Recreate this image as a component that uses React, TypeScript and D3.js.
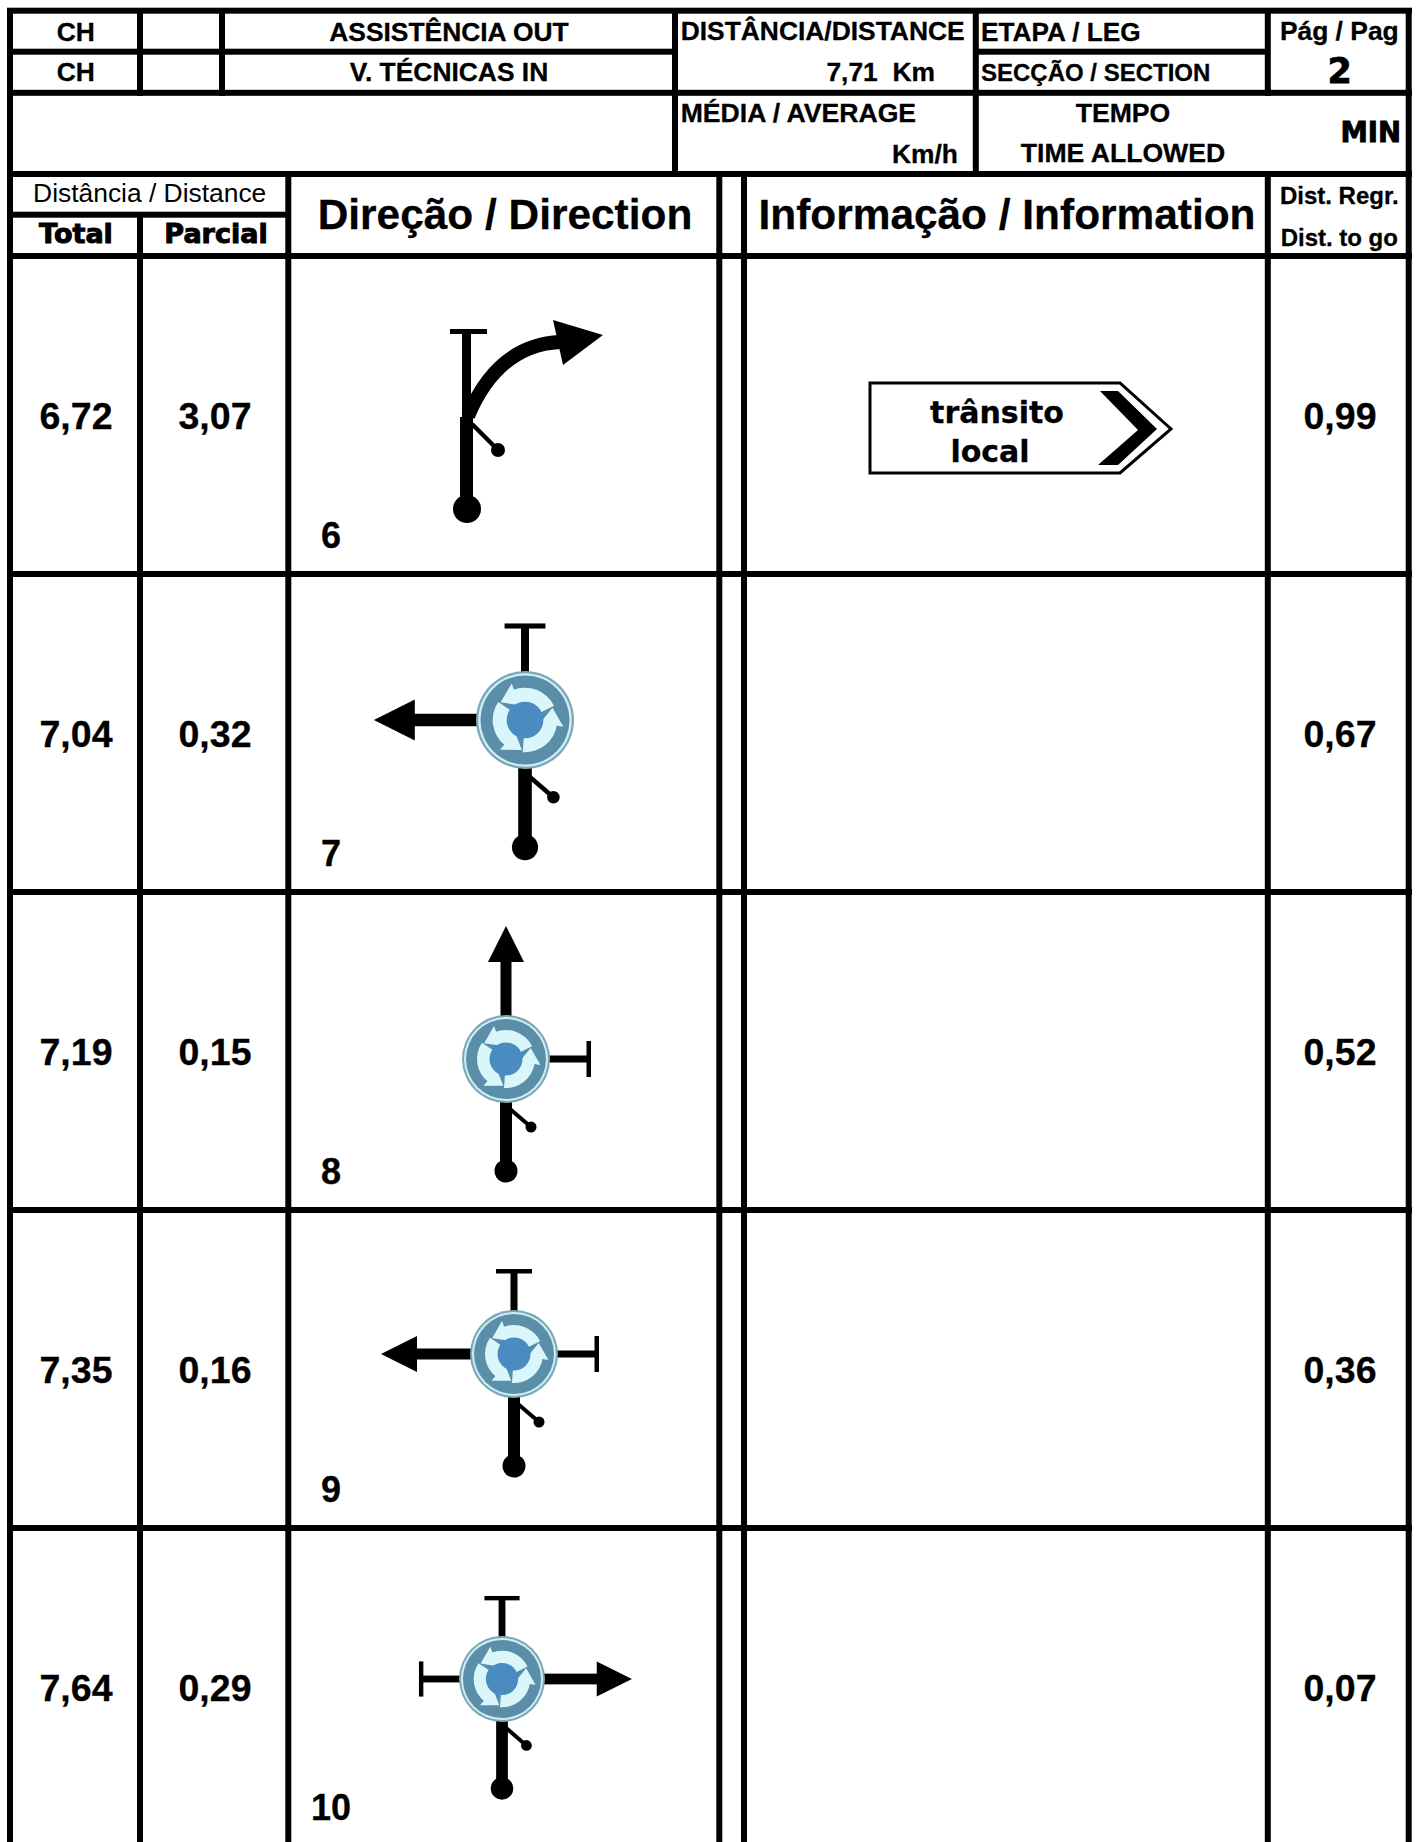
import React from "react";
import * as d3 from "d3";

// values
const totals = ["6,72", "7,04", "7,19", "7,35", "7,64"];
const partials = ["3,07", "0,32", "0,15", "0,16", "0,29"];
const toGo = ["0,99", "0,67", "0,52", "0,36", "0,07"];
const steps = ["6", "7", "8", "9", "10"];

// which way each arm of the roundabout goes, row 0 is the fork drawn by hand
type Arm = "arrow" | "stub" | null;
const topArms: Arm[] = [null, "stub", "arrow", "stub", "stub"];
const leftArms: Arm[] = [null, "arrow", null, "arrow", "stub"];
const rightArms: Arm[] = [null, null, "stub", "stub", "arrow"];

// icon placement
const junctionX = [0, 525, 506, 514, 502];
const junctionDy = [0, 146, 167, 144, 151];
const junctionK = [1, 1.136, 1, 1, 0.977];
const rotaryK = [1, 0.98, 1, 1, 1];

const width = 1421;
const height = 1842;
const arial = "'Liberation Sans', Arial, sans-serif";
const heavy = "'DejaVu Sans', Verdana, sans-serif";
const lw = 6;

const rowY = d3.scaleLinear().domain([0, 1]).range([256, 574]);
const rowIdx = d3.range(totals.length);

const rad = (deg: number) => (deg * Math.PI) / 180;

const T = ({ x, y, size, a = "middle", w = 700, f = arial, s = 0.3, children }: any) => (
  <text
    x={x}
    y={y}
    fontSize={size}
    textAnchor={a}
    fontWeight={w}
    fontFamily={f}
    fill="#000"
    stroke="#000"
    strokeWidth={s}
    style={{ whiteSpace: "pre" }}
  >
    {children}
  </text>
);

const Rotary = ({ k }: { k: number }) => {
  const band = d3.arc()({ innerRadius: 16, outerRadius: 29, startAngle: rad(-22), endAngle: rad(64) } as any) as string;
  const head = [d3.pointRadial(rad(-20), 35), d3.pointRadial(rad(-20), 14), d3.pointRadial(rad(-54), 27)];
  return (
    <g transform={`scale(${k})`}>
      <circle r={44} fill="#7ba6b8" />
      <circle r={42} fill="#cfeef3" />
      <circle r={40} fill="#5b8fa9" />
      <circle r={18} fill="#4a8cc0" />
      {[0, 120, 240].map((a) => (
        <g key={a} transform={`rotate(${a})`} fill="#d9f7fa">
          <path d={band} />
          <polygon points={head.map((p) => p.join(",")).join(" ")} />
        </g>
      ))}
      <circle r={16.5} fill="#4a8cc0" />
    </g>
  );
};

// arm pointing up from the roundabout, rotated for the other sides
const ArmUp = ({ kind, angle }: { kind: Arm; angle: number }) => {
  if (!kind) return null;
  if (kind === "stub") {
    return (
      <g transform={`rotate(${angle})`} fill="#000">
        <rect x={-3.5} y={-83} width={7} height={42} />
        <rect x={-18} y={-85} width={36} height={4.5} />
      </g>
    );
  }
  return (
    <g transform={`rotate(${angle})`} fill="#000">
      <rect x={-5.5} y={-100} width={11} height={58} />
      <path d="M0,-133L18,-97L-18,-97Z" />
    </g>
  );
};

const Junction = ({ i }: { i: number }) => (
  <g transform={`translate(${junctionX[i]},${rowY(i) + junctionDy[i]}) scale(${junctionK[i]})`}>
    <ArmUp kind={topArms[i]} angle={0} />
    <ArmUp kind={leftArms[i]} angle={-90} />
    <ArmUp kind={rightArms[i]} angle={90} />
    <rect x={-6} y={42} width={12} height={70} fill="#000" />
    <circle cy={112} r={11.5} fill="#000" />
    <line x1={4} y1={50} x2={25} y2={68} stroke="#000" strokeWidth={4} />
    <circle cx={25} cy={68} r={5.5} fill="#000" />
    <Rotary k={rotaryK[i]} />
  </g>
);

const Fork = () => {
  const y0 = rowY(0);
  const curve = d3.path();
  curve.moveTo(468, y0 + 160);
  curve.quadraticCurveTo(498, y0 + 89, 560, y0 + 86);
  return (
    <g fill="#000">
      <rect x={450} y={y0 + 73} width={37} height={5} />
      <rect x={462} y={y0 + 75} width={9} height={90} />
      <rect x={460} y={y0 + 161} width={13} height={92} />
      <circle cx={467} cy={y0 + 253} r={14} />
      <path d={curve.toString()} fill="none" stroke="#000" strokeWidth={14} />
      <path d={`M553,${y0 + 64}L603,${y0 + 79}L563,${y0 + 109}Z`} />
      <line x1={472} y1={y0 + 168} x2={498} y2={y0 + 194} stroke="#000" strokeWidth={4.5} />
      <circle cx={498} cy={y0 + 194} r={7} />
    </g>
  );
};

const TransitSign = () => (
  <g>
    <path d="M870,383H1120L1171,429L1120,473H870Z" fill="#fff" stroke="#000" strokeWidth={3} />
    <path d="M1100,391H1118L1157,429L1118,465H1098L1138,430Z" fill="#000" />
    <T x={997} y={423} size={30} f={heavy}>trânsito</T>
    <T x={990} y={462} size={30} f={heavy}>local</T>
  </g>
);

export default function App() {
  // frame lines: vertical [x, y1, y2], horizontal [y, x1, x2]
  const vLines = [
    [10, 8, height],
    [140, 8, 96],
    [222, 8, 96],
    [675, 8, 177],
    [975.8, 8, 177],
    [1267.8, 8, 96],
    [140, 212, height],
    [288.3, 174, height],
    [719.3, 174, height],
    [744, 174, height],
    [1267.8, 174, height],
    [1408.7, 8, height],
  ];
  const hLines = [
    [10.7, 7, 1412],
    [51.7, 7, 675],
    [51.7, 975, 1268],
    [92.8, 7, 1412],
    [174, 7, 1412],
    [214.7, 7, 288],
    ...rowIdx.map((i) => [rowY(i), 7, 1412]),
  ];

  return (
    <svg
      width={width}
      height={height}
      viewBox={`0 0 ${width} ${height}`}
      style={{ position: "absolute", left: 0, top: 0, display: "block", background: "#fff" }}
    >
      {vLines.map(([x, a, b], i) => (
        <rect key={`v${i}`} x={x - lw / 2} y={a} width={lw} height={b - a} fill="#000" />
      ))}
      {hLines.map(([y, a, b], i) => (
        <rect key={`h${i}`} x={a} y={y - lw / 2} width={b - a} height={lw} fill="#000" />
      ))}

      <T x={75.8} y={40.7} size={26.4}>CH</T>
      <T x={75.8} y={81} size={26.4}>CH</T>
      <T x={449} y={40.7} size={26.4}>ASSISTÊNCIA OUT</T>
      <T x={449} y={81} size={26.4}>V. TÉCNICAS IN</T>
      <T x={680.7} y={40} size={26.4} a="start">DISTÂNCIA/DISTANCE</T>
      <T x={935} y={81} size={26.4} a="end">7,71  Km</T>
      <T x={981} y={41} size={26.2} a="start">ETAPA / LEG</T>
      <T x={981} y={81} size={24} a="start">SECÇÃO / SECTION</T>
      <T x={1339.3} y={39.5} size={26.4}>Pág / Pag</T>
      <T x={1339.7} y={83} size={35} f={heavy} s={0.8}>2</T>
      <T x={680.7} y={121.7} size={26.6} a="start">MÉDIA / AVERAGE</T>
      <T x={958} y={162.7} size={26.4} a="end">Km/h</T>
      <T x={1123} y={122} size={26.6}>TEMPO</T>
      <T x={1123} y={162} size={26.6}>TIME ALLOWED</T>
      <T x={1401} y={142} size={27.5} a="end" f={heavy} s={0.9}>MIN</T>

      <T x={149.7} y={202} size={26.4} w={400} s={0}>Distância / Distance</T>
      <T x={76} y={242.7} size={27} f={heavy} s={1}>Total</T>
      <T x={216} y={242.7} size={27} f={heavy} s={1}>Parcial</T>
      <T x={505} y={229} size={42.4}>Direção / Direction</T>
      <T x={1007} y={229} size={42.4}>Informação / Information</T>
      <T x={1339.3} y={204} size={24}>Dist. Regr.</T>
      <T x={1339.3} y={246} size={24}>Dist. to go</T>

      {rowIdx.map((i) => (
        <g key={i}>
          <T x={76} y={rowY(i) + 172.5} size={37.5}>{totals[i]}</T>
          <T x={215} y={rowY(i) + 172.5} size={37.5}>{partials[i]}</T>
          <T x={1340} y={rowY(i) + 172.5} size={37.5}>{toGo[i]}</T>
          <T x={331} y={rowY(i) + 292} size={36}>{steps[i]}</T>
          {i > 0 && <Junction i={i} />}
        </g>
      ))}

      <Fork />
      <TransitSign />
    </svg>
  );
}
